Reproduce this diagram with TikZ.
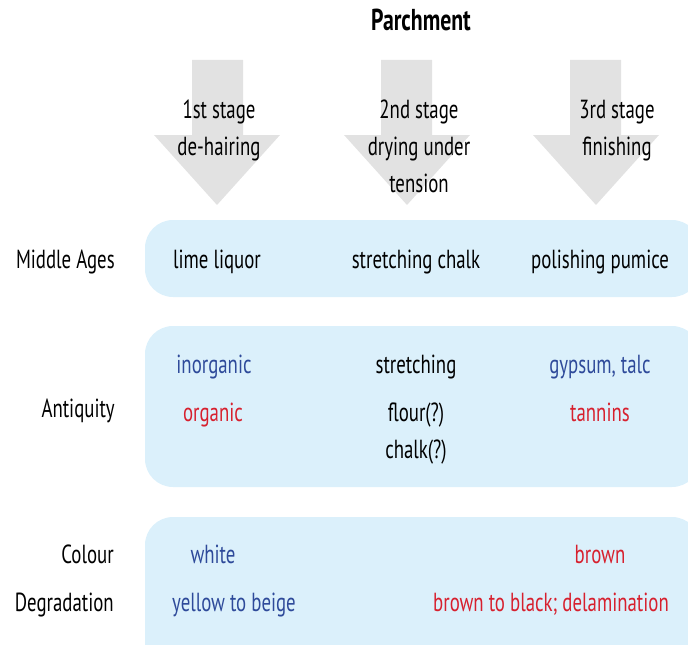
\documentclass[tikz,border=0pt]{standalone}
\usepackage{fontspec}
\setmainfont{PT Sans}[FakeStretch=0.72]
\usepackage{tikz}
\usetikzlibrary{positioning}
\definecolor{bandblue}{HTML}{DBF0FB}
\definecolor{arrowgrey}{HTML}{E2E2E2}
\definecolor{inkblue}{HTML}{2E4A9A}
\definecolor{inkred}{HTML}{D7202E}
\tikzstyle{band} = [fill=bandblue, rounded corners=0.7cm]
\tikzstyle{stage} = [fill=arrowgrey]
\tikzstyle{txt} = [font=\fontsize{18.6}{22}\selectfont, inner sep=0pt, anchor=base]
\tikzstyle{rowlabel} = [txt, anchor=base east]
\tikzstyle{mineral} = [txt, text=inkblue]
\tikzstyle{organic} = [txt, text=inkred]

\begin{document}
\begin{tikzpicture}[x=0.025cm, y=-0.025cm]
    \clip (0,0) rectangle (688,644);

    % stage arrows
    \fill [stage] (192,60) -- (243,60) -- (243,135) -- (280,135) -- (217,205) -- (154,135) -- (192,135) -- cycle;
    \fill [stage] (381,60) -- (432,60) -- (432,135) -- (470,135) -- (407,205) -- (344,135) -- (381,135) -- cycle;
    \fill [stage] (570,60) -- (621,60) -- (621,135) -- (659,135) -- (596,205) -- (533,135) -- (570,135) -- cycle;

    % bands
    \fill [band] (145,220) rectangle (700,297);
    \fill [band] (145,326) rectangle (700,487);
    \fill [band] (145,517) rectangle (700,700);

    \node (title) [txt, font=\fontsize{21.5}{24}\selectfont\bfseries] at (421,31) {Parchment};

    \node (s1a) [txt] at (219,118) {1st stage};
    \node (s1b) [txt] at (219,155) {de-hairing};
    \node (s2a) [txt] at (419,118) {2nd stage};
    \node (s2b) [txt] at (419,155) {drying under};
    \node (s2c) [txt] at (419,192) {tension};
    \node (s3a) [txt] at (617,118) {3rd stage};
    \node (s3b) [txt] at (617,155) {finishing};

    \node (middle) [rowlabel] at (115,268) {Middle Ages};
    \node (antiq) [rowlabel] at (115,417) {Antiquity};
    \node (colour) [rowlabel] at (114,563) {Colour};
    \node (degrad) [rowlabel] at (114,611) {Degradation};

    \node (lime) [txt] at (217,268) {lime liquor};
    \node (chalk) [txt] at (416,268) {stretching chalk};
    \node (pumice) [txt] at (600,268) {polishing pumice};

    \node (inorg) [mineral] at (214,373) {inorganic};
    \node (org) [organic] at (213,421) {organic};
    \node (stretch) [txt] at (416,373) {stretching};
    \node (flour) [txt] at (416,421) {flour(?)};
    \node (chalkq) [txt] at (416,458) {chalk(?)};
    \node (gypsum) [mineral] at (600,373) {gypsum, talc};
    \node (tannin) [organic] at (600,421) {tannins};

    \node (white) [mineral] at (213,563) {white};
    \node (yellow) [mineral] at (234,611) {yellow to beige};
    \node (brown) [organic] at (600,563) {brown};
    \node (black) [organic] at (551,611) {brown to black; delamination};
\end{tikzpicture}
\end{document}
